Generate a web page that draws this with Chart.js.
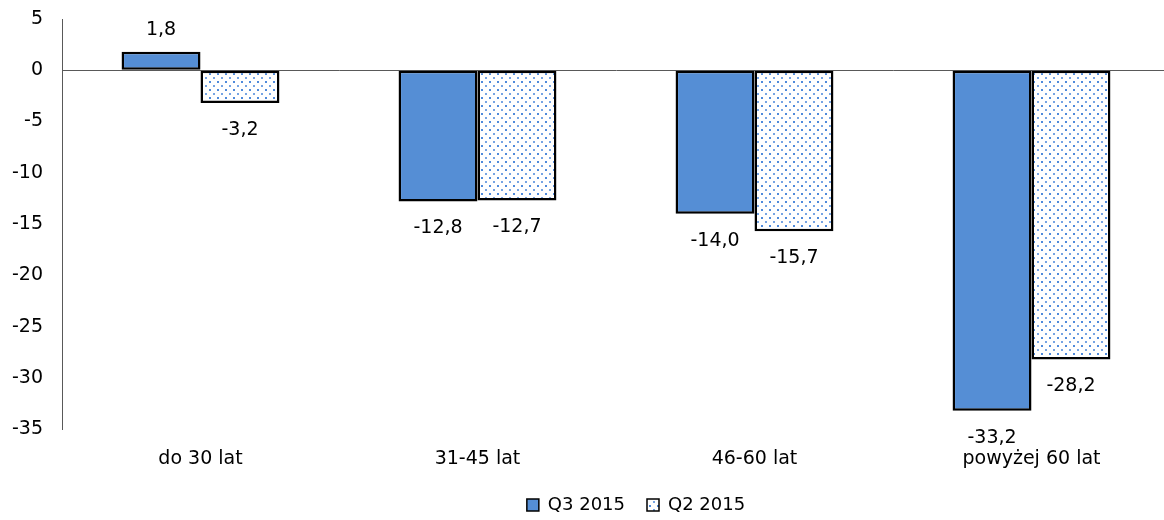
<!DOCTYPE html>
<html>
<head>
<meta charset="utf-8">
<script src="https://cdn.jsdelivr.net/npm/chart.js@4"></script>
<style>
  html, body { margin: 0; padding: 0; background: #fff; overflow: hidden; }
  #wrap { width: 1272px; height: 520px; }
</style>
</head>
<body>
<div id="wrap"><canvas id="c" width="1272" height="520"></canvas></div>
<script>
const categories = ['do 30 lat', '31-45 lat', '46-60 lat', 'powyżej 60 lat'];
const seriesNames = ['Q3 2015', 'Q2 2015'];
const q3Values = [1.8, -12.8, -14.0, -33.2];
const q2Values = [-3.2, -12.7, -15.7, -28.2];
const yTicks = [5, 0, -5, -10, -15, -20, -25, -30, -35];

function makeDots() {
  const t = document.createElement('canvas');
  t.width = 8; t.height = 8;
  const g = t.getContext('2d');
  g.fillStyle = '#ffffff';
  g.fillRect(0, 0, 8, 8);
  g.fillStyle = 'rgba(60,125,215,0.9)';
  g.fillRect(1, 1, 2, 2);
  g.fillStyle = 'rgba(60,125,215,0.7)';
  g.fillRect(5, 5, 2, 2);
  return document.getElementById('c').getContext('2d').createPattern(t, 'repeat');
}

const fmt = v => v.toFixed(1).replace('.', ',');

const valueLabels = {
  id: 'valueLabels',
  afterInit(chart) {
    const lg = chart.legend;
    if (lg && !lg._patched) {
      const origFit = lg.fit.bind(lg);
      lg.fit = function () { origFit(); this.height = 32; };
      lg._patched = true;
    }
  },
  afterUpdate(chart) {
    const lg = chart.legend;
    if (lg) {
      lg.left += 45; lg.right += 45;
      lg.top -= 14;
      lg.height = lg.bottom - lg.top;
      lg.adjustHitBoxes();
    }
  },
  afterDatasetsDraw(chart) {
    const ctx = chart.ctx;
    ctx.save();
    ctx.font = '19px "DejaVu Sans"';
    ctx.fillStyle = '#000';
    ctx.textAlign = 'center';
    ctx.textBaseline = 'middle';
    chart.data.datasets.forEach((ds, di) => {
      chart.getDatasetMeta(di).data.forEach((el, i) => {
        const v = ds.data[i];
        const y = v < 0 ? el.y + 27 : el.y - 22;
        ctx.fillText(fmt(v), el.x, y);
      });
    });
    ctx.restore();
  }
};

new Chart(document.getElementById('c'), {
  type: 'bar',
  data: {
    labels: categories,
    datasets: [
      { label: seriesNames[0], data: q3Values, backgroundColor: '#558ED5', borderColor: '#000', borderWidth: 2.5, borderSkipped: false },
      { label: seriesNames[1], data: q2Values, backgroundColor: makeDots(), borderColor: '#000', borderWidth: 2.5, borderSkipped: false }
    ]
  },
  options: {
    responsive: false,
    animation: false,
    categoryPercentage: 0.57,
    barPercentage: 1.0,
    layout: { padding: { left: 12, right: 102, top: 19, bottom: 0 } },
    plugins: {
      tooltip: { enabled: false },
      legend: {
        position: 'bottom',
        labels: {
          font: { family: 'DejaVu Sans', size: 18 },
          color: '#000',
          boxWidth: 12,
          boxHeight: 12,
          padding: 22,
          generateLabels: chart => Chart.defaults.plugins.legend.labels.generateLabels(chart).map(l => Object.assign(l, { lineWidth: 1.5 }))
        }
      }
    },
    scales: {
      x: {
        grid: { display: false, drawTicks: false },
        border: { display: false },
        ticks: { font: { family: 'DejaVu Sans', size: 19 }, color: '#000', padding: 18 }
      },
      y: {
        min: -35,
        max: 5,
        afterBuildTicks: axis => { axis.ticks = yTicks.map(v => ({ value: v })); },
        afterFit: axis => { axis.width = 50; axis.paddingTop = 0; axis.paddingBottom = 0; },
        grid: {
          drawTicks: false,
          color: c => (c.tick && c.tick.value === 0) ? '#595959' : 'rgba(0,0,0,0)',
          lineWidth: 1
        },
        border: { display: true, color: '#595959', width: 1 },
        ticks: { font: { family: 'DejaVu Sans', size: 19 }, color: '#000', padding: 19 }
      }
    }
  },
  plugins: [valueLabels]
});
</script>
</body>
</html>
